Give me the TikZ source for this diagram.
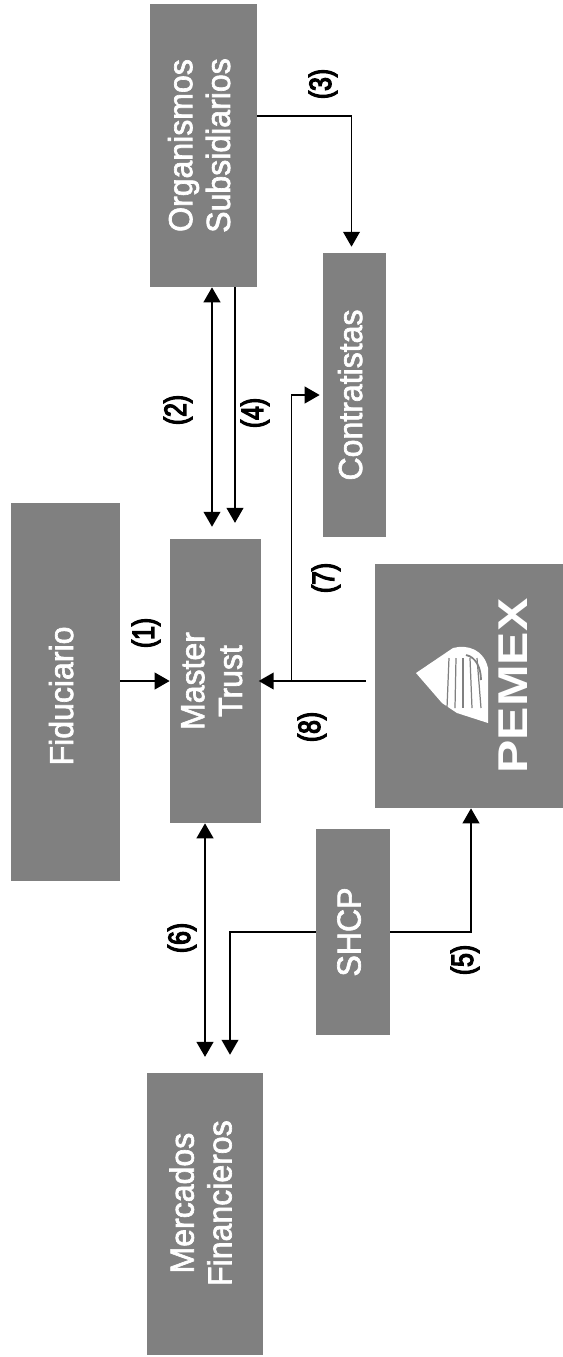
\documentclass[tikz,border=0pt]{standalone}
\usepackage{fontspec}
\setmainfont{Liberation Sans}[FakeStretch=0.96,FakeBold=2]
\newfontfamily\tagfont{Liberation Sans}[FakeStretch=0.8,FakeBold=4]
\newfontfamily\logofont{Liberation Sans Bold}[FakeStretch=1.2]
\usepackage{graphicx}
\usetikzlibrary{arrows.meta,calc,positioning}
\definecolor{boxgray}{HTML}{808080}
\tikzset{
  box/.style={fill=boxgray,text=white,inner sep=0pt,font=\fontsize{19}{21.5}\selectfont,align=center},
  link/.style={black,line width=0.95pt,-{Triangle[length=8.5pt,width=9.5pt]}},
  twoway/.style={black,line width=1.1pt,{Triangle[length=8.5pt,width=9.5pt]}-{Triangle[length=8.5pt,width=9.5pt]}},
  tag/.style={font=\tagfont\fontsize{17.5}{18}\selectfont,rotate=90,inner sep=0pt}
}
\newcommand{\sideways}[2][0pt]{\rotatebox{90}{\hspace{#1}\begin{tabular}{@{}c@{}}#2\end{tabular}}}
\begin{document}
\begin{tikzpicture}[x=0.02cm,y=-0.02cm]
  \useasboundingbox (0,0) rectangle (563,1357);
  % boxes
  \node[box,minimum width=2.18cm,minimum height=7.56cm] (fiduciario) at (65.5,692) {\sideways[-4.5pt]{Fiduciario}};
  \node[box,minimum width=1.82cm,minimum height=5.68cm] (master) at (215.5,681) {\sideways{Master\\Trust}};
  \node[box,minimum width=2.14cm,minimum height=5.66cm] (organismos) at (203.5,145.5) {\sideways{Organismos\\Subsidiarios}};
  \node[box,minimum width=1.26cm,minimum height=5.68cm] (contratistas) at (354.5,395) {\sideways{Contratistas}};
  \node[box,minimum width=3.76cm,minimum height=4.88cm] (pemex) at (469,686) {};
  \node[box,minimum width=1.48cm,minimum height=4.12cm] (shcp) at (353,932) {\sideways{SHCP}};
  \node[box,minimum width=2.32cm,minimum height=5.64cm] (mercados) at (205,1214) {\sideways[12.4pt]{Mercados\\Financieros}};
  % logo
  \fill[white] (416,673) -- (453,648) .. controls (468,644) and (484,650) .. (488,668)
    -- (488,723) -- (457,713) -- (442,703) -- cycle;
  \foreach \sx/\ex in {449/447,456/455,463/463,470/472,477/481}
    \draw[boxgray,line width=0.7pt] (\sx,658) -- (\ex,708);
  \draw[boxgray,line width=1pt] (466,655) .. controls (476,657) and (481,668) .. (481,680);
  \node[font=\logofont\fontsize{23.7}{24}\selectfont,text=white,rotate=90,inner sep=0pt] (logotext) at (513,686) {PEMEX};
  % connectors
  \coordinate (twoupper) at (212,0);
  \coordinate (fourth) at (235,0);
  \coordinate (sixth) at (205,0);
  \coordinate (shcpdown) at (230,0);
  \coordinate (pemexup) at (471,0);
  \coordinate (thirdx) at (351.5,0);
  \coordinate (thirdy) at (0,116);
  \coordinate (branchx) at (291.5,0);
  \draw[link] (fiduciario.east |- master.center) -- (master.west);
  \draw[twoway,shorten >=6.8pt] (organismos.south -| twoupper) -- (master.north -| twoupper);
  \draw[link,shorten >=9pt] (organismos.south -| fourth) -- (master.north -| fourth);
  \draw[link,shorten >=3.4pt] (organismos.east |- thirdy) -| (contratistas.north -| thirdx);
  \draw[link,shorten <=5pt,shorten >=-1.5pt] (pemex.west |- master.center) -- (master.east);
  \draw[link,shorten >=1.7pt] (branchx |- master.center) |- (contratistas.west);
  \draw[twoway,shorten >=9pt] (master.south -| sixth) -- (mercados.north -| sixth);
  \draw[link,shorten >=10.2pt] (shcp.west) -| (mercados.north -| shcpdown);
  \draw[link] (shcp.east) -| (pemex.south -| pemexup);
  % numbers
  \node[tag] (n1) at (146,633) {(1)};
  \node[tag] (n2) at (178,410) {(2)};
  \node[tag] (n3) at (323,84) {(3)};
  \node[tag] (n4) at (255,413) {(4)};
  \node[tag] (n5) at (465,960) {(5)};
  \node[tag] (n6) at (182,938) {(6)};
  \node[tag] (n7) at (326,578) {(7)};
  \node[tag] (n8) at (312,727) {(8)};
\end{tikzpicture}
\end{document}
